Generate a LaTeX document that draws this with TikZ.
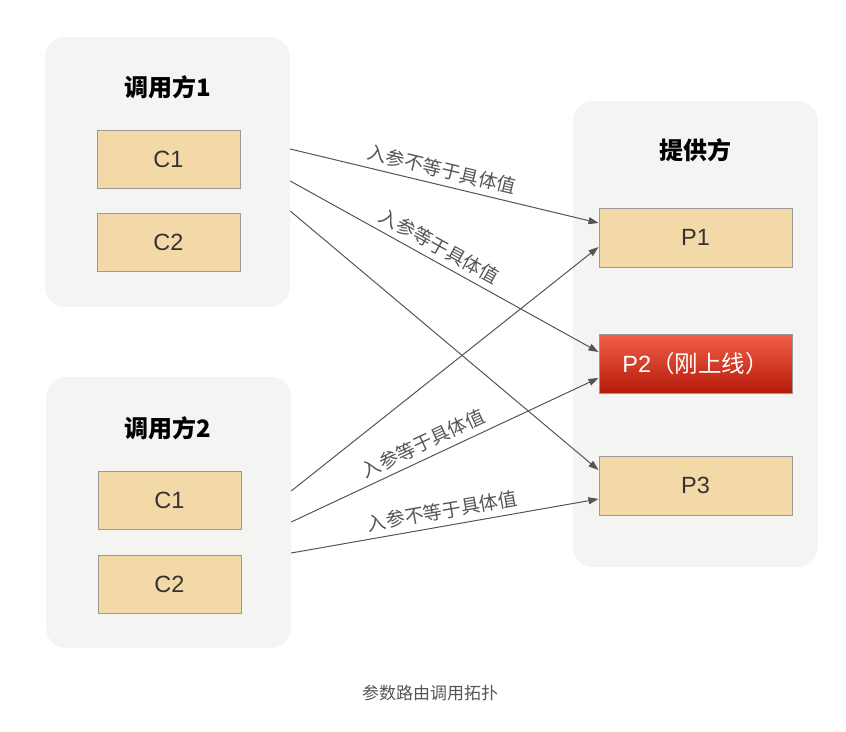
\documentclass[tikz,border=0pt]{standalone}
\usepackage{fontspec}
\setmainfont{Liberation Sans}
\newfontfamily\cjk{Noto Sans CJK SC}
\usetikzlibrary{arrows.meta}
\definecolor{grpfill}{HTML}{F4F4F2}
\definecolor{tanfill}{HTML}{F4D9A8}
\definecolor{boxline}{HTML}{9A9A9A}
\definecolor{linecol}{HTML}{555555}
\definecolor{txtcol}{HTML}{333333}
\definecolor{redtop}{HTML}{F2604A}
\definecolor{redbot}{HTML}{B51A08}
\begin{document}
\begin{tikzpicture}[x=1pt,y=-1pt,
  grp/.style={fill=grpfill, draw=none, rounded corners=20pt, inner sep=0pt},
  ttl/.style={font=\cjk\bfseries\fontsize{24}{28}\selectfont, text=black},
  cbox/.style={fill=tanfill, draw=boxline, line width=1pt, minimum width=143pt, minimum height=58pt, inner sep=0pt, font=\fontsize{23.5}{27}\selectfont, text=txtcol},
  pbox/.style={cbox, minimum width=193pt, minimum height=59pt},
  conn/.style={draw=linecol, line width=1pt, -{Triangle[length=10pt,width=7pt]}},
  lbl/.style={font=\cjk\fontsize{19}{22}\selectfont, text=linecol, sloped, above=4pt, inner sep=2pt}
]
\useasboundingbox (0,0) rectangle (846,731);

% groups
\node[grp, minimum width=245pt, minimum height=270pt] (g1) at (167.5,172) {};
\node[grp, minimum width=245pt, minimum height=271pt] (g2) at (168.5,512.5) {};
\node[grp, minimum width=245pt, minimum height=466pt] (g3) at (695.5,334) {};

\node[ttl] (t1) at (168,87) {调用方1};
\node[ttl] (t2) at (168,428) {调用方2};
\node[ttl] (t3) at (695,150) {提供方};

\node[cbox] (a1) at (168.5,159) {C1};
\node[cbox] (a2) at (168.5,242.5) {C2};
\node[cbox] (b1) at (169.5,500) {C1};
\node[cbox] (b2) at (169.5,584) {C2};

\node[pbox] (p1) at (695.5,237.5) {P1};
\node[pbox, top color=redtop, bottom color=redbot, text=white] (p2) at (695.5,363.5) {P2\cjk（刚上线）};
\node[pbox] (p3) at (695.5,485.5) {P3};

% connector endpoints on group edges
\coordinate (s1) at (g1.east |- 0,149);
\coordinate (s2) at (g1.east |- 0,181);
\coordinate (s3) at (g1.east |- 0,211);
\coordinate (s4) at (g2.east |- 0,491);
\coordinate (s5) at (g2.east |- 0,522);
\coordinate (s6) at (g2.east |- 0,553);
\coordinate (e1) at (p1.west |- 0,223);
\coordinate (e4) at (p1.west |- 0,247);
\coordinate (e2) at (p2.west |- 0,352);
\coordinate (e5) at (p2.west |- 0,378);
\coordinate (e3) at (p3.west |- 0,470);
\coordinate (e6) at (p3.west |- 0,499);

\draw[conn] (s1) -- node[lbl, pos=0.48] {入参不等于具体值} (e1);
\draw[conn] (s2) -- node[lbl, pos=0.46] {入参等于具体值} (e2);
\draw[conn] (s3) -- (e3);
\draw[conn] (s4) -- (e4);
\draw[conn] (s5) -- node[lbl, pos=0.45] {入参等于具体值} (e5);
\draw[conn] (s6) -- node[lbl, pos=0.50] {入参不等于具体值} (e6);

\node[font=\cjk\fontsize{17}{20}\selectfont, text=linecol] (cap) at (430,693) {参数路由调用拓扑};
\end{tikzpicture}
\end{document}
